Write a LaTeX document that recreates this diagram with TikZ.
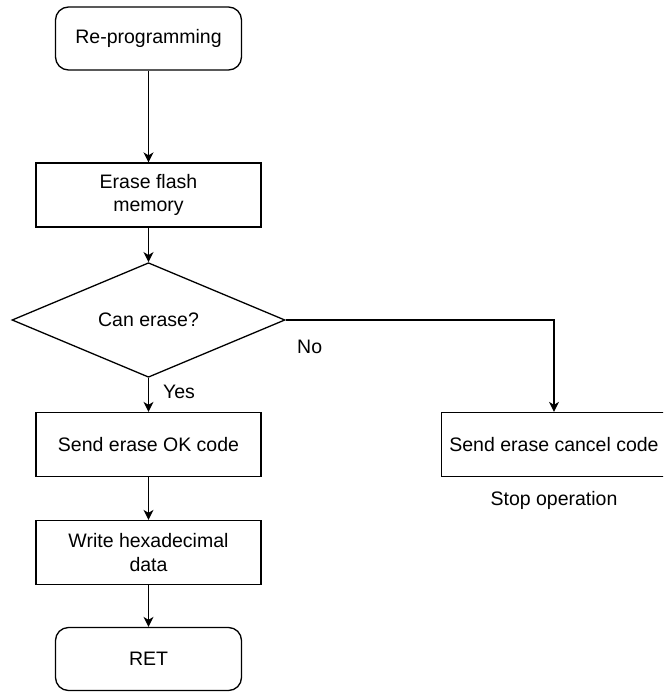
\documentclass[tikz,border=0pt]{standalone}
\usepackage{fontspec}
\setmainfont{Liberation Sans}
\usetikzlibrary{shapes.geometric,arrows.meta}
\begin{document}
\begin{tikzpicture}[x=1pt,y=-1pt,
  every node/.style={font=\fontsize{19.5}{23.4}\selectfont},
  line/.style={line width=1.3pt,draw=black},
  flow/.style={line,-{Stealth[length=10pt,width=10pt,inset=3pt]}},
  terminal/.style={line,rounded corners=13pt,minimum width=186pt,minimum height=63pt,inner sep=0pt,align=center},
  process/.style={line,minimum width=225pt,minimum height=64pt,inner sep=0pt,align=center},
  decision/.style={line,diamond,minimum width=273pt,minimum height=97pt,inner sep=0pt,align=center},
  tag/.style={inner sep=0pt}]
  \useasboundingbox (0,0) rectangle (663,692);
  \clip (0,0) rectangle (663,692);
  \fill[white] (0,0) rectangle (663,692);

  % main path
  \node[terminal] (start) at (148.5,38.5) {Re-programming};
  \node[process] (erase) at (148.5,195) {Erase flash\\memory};
  \node[decision] (check) at (148.5,320) {Can erase?};
  \node[process] (ok) at (148.5,444.5) {Send erase OK code};
  \node[process] (write) at (148.5,552.5) {Write hexadecimal\\data};
  \node[terminal] (ret) at (148.5,659) {RET};

  % failure branch
  \node[process] (cancel) at (554,444.5) {Send erase cancel code};
  \node[tag] (stop) at (554,500) {Stop operation};

  % connectors
  \draw[flow] (start) -- (erase);
  \draw[flow] (erase) -- (check);
  \draw[flow] (check) -- node[tag,anchor=west,pos=0.4,xshift=14pt] (yes) {Yes} (ok);
  \draw[flow] (check.east) -| (cancel.north);
  \node[tag,anchor=west] (no) at (297,347) {No};
  \draw[flow] (ok) -- (write);
  \draw[flow] (write) -- (ret);
\end{tikzpicture}
\end{document}
